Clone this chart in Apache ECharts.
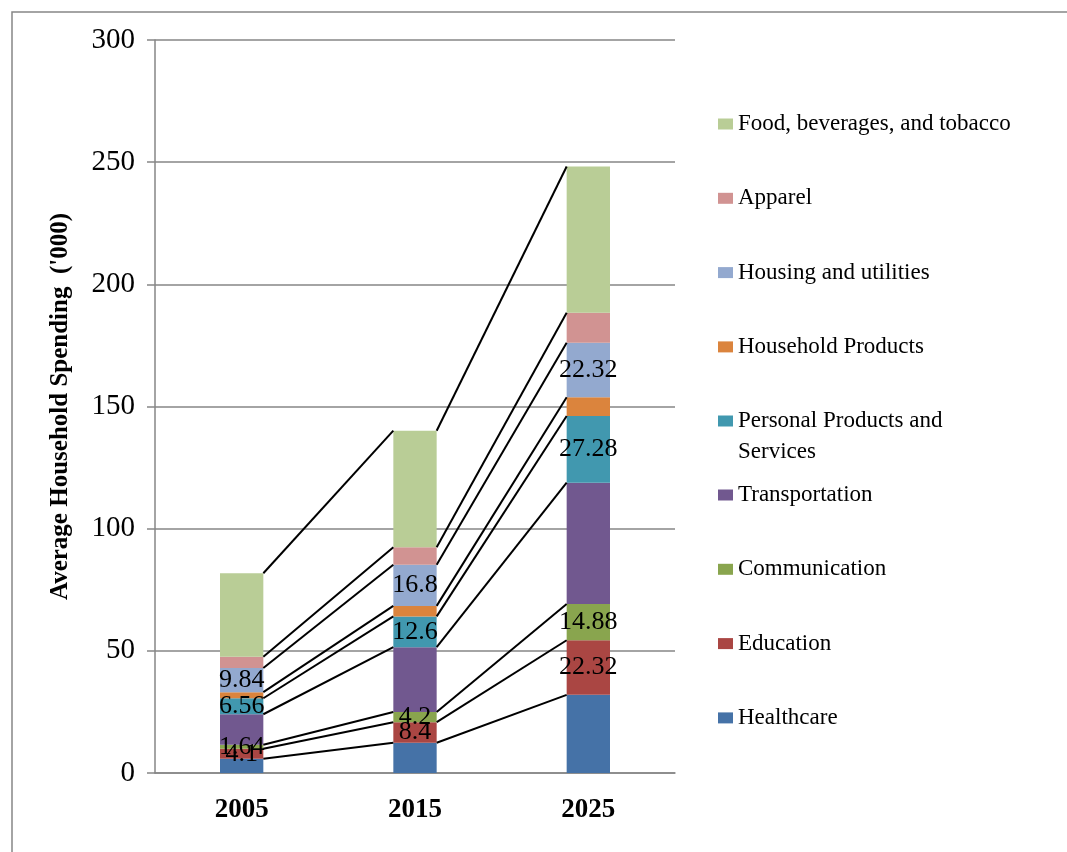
<!DOCTYPE html>
<html>
<head>
<meta charset="utf-8">
<title>Average Household Spending</title>
<script src="https://cdn.jsdelivr.net/npm/echarts@6/dist/echarts.min.js"></script>
<style>
  html, body { margin: 0; padding: 0; background: #ffffff; }
  #chart { width: 1067px; height: 852px; }
</style>
</head>
<body>
<div id="chart"></div>
<script>
// Years on the category axis
const categories = ['2005', '2015', '2025'];

// Spending per category ('000), stacked bottom to top
const healthcare     = [5.8, 12.4, 32];
const education      = [4.1, 8.4, 22.32];
const communication  = [1.64, 4.2, 14.88];
const transportation = [12.5, 26.5, 49.6];
const personal       = [6.56, 12.6, 27.28];
const household      = [2.5, 4.3, 7.7];
const housing        = [9.84, 16.8, 22.32];
const apparel        = [4.6, 7.2, 12.3];
const food           = [34.2, 47.7, 59.8];

// Value axis range
const yMin = 0;
const yMax = 300;
const yStep = 50;

const seriesDefs = [
  { name: 'Healthcare', data: healthcare, color: '#4572A7', label: false },
  { name: 'Education', data: education, color: '#AA4643', label: true },
  { name: 'Communication', data: communication, color: '#89A54E', label: true },
  { name: 'Transportation', data: transportation, color: '#71588F', label: false },
  { name: 'Personal Products and Services', data: personal, color: '#4198AF', label: true },
  { name: 'Household Products', data: household, color: '#DB843D', label: false },
  { name: 'Housing and utilities', data: housing, color: '#93A9CF', label: true },
  { name: 'Apparel', data: apparel, color: '#D19392', label: false },
  { name: 'Food, beverages, and tobacco', data: food, color: '#B9CD96', label: false }
];

const SERIF = "'Liberation Serif', 'Times New Roman', serif";
const BAR_RATIO = 0.25;
const GRAY = '#868686';

// Cumulative tops of each stacked segment, used for the series lines
const cumulative = [];
seriesDefs.forEach((s, i) => {
  cumulative.push(s.data.map((v, j) => (i ? cumulative[i - 1][j] : 0) + v));
});
const connectorData = [];
cumulative.forEach(row => {
  for (let j = 0; j < categories.length - 1; j++) {
    connectorData.push([j, row[j], row[j + 1]]);
  }
});

const barSeries = seriesDefs.map(s => ({
  name: s.name,
  type: 'bar',
  stack: 'total',
  barWidth: (BAR_RATIO * 100) + '%',
  data: s.data,
  itemStyle: { color: s.color },
  label: {
    show: s.label,
    position: 'inside',
    color: '#000',
    fontFamily: SERIF,
    fontSize: 26,
    formatter: p => String(p.value)
  },
  emphasis: { disabled: true }
}));

// Lines joining the top of each segment from one bar to the next
const connectorSeries = {
  type: 'custom',
  silent: true,
  z: 3,
  data: connectorData,
  encode: { x: 0, y: [1, 2] },
  renderItem: (params, api) => {
    const j = api.value(0);
    const a = api.coord([j, api.value(1)]);
    const b = api.coord([j + 1, api.value(2)]);
    const half = api.size([1, 0])[0] * BAR_RATIO / 2;
    return {
      type: 'line',
      shape: { x1: a[0] + half, y1: a[1], x2: b[0] - half, y2: b[1] },
      style: { stroke: '#000', lineWidth: 2 }
    };
  }
};

const legendText = { fontFamily: SERIF, fontSize: 23, color: '#000', lineHeight: 31 };
const legendBase = {
  orient: 'vertical',
  left: 718,
  padding: 0,
  itemWidth: 15,
  itemHeight: 11,
  itemGap: 43.3,
  icon: 'rect',
  selectedMode: false,
  textStyle: legendText
};

const chart = echarts.init(document.getElementById('chart'), null, { renderer: 'canvas' });
chart.setOption({
  backgroundColor: '#ffffff',
  animation: false,
  grid: { left: 155, right: 392, top: 40, bottom: 79, containLabel: false },
  legend: [
    Object.assign({}, legendBase, {
      top: 108.5,
      data: ['Food, beverages, and tobacco', 'Apparel', 'Housing and utilities', 'Household Products']
    }),
    Object.assign({}, legendBase, {
      top: 374.5,
      data: ['Personal Products and Services'],
      formatter: () => '\nPersonal Products and\nServices'
    }),
    Object.assign({}, legendBase, {
      top: 479.5,
      data: ['Transportation', 'Communication', 'Education', 'Healthcare']
    })
  ],
  xAxis: {
    type: 'category',
    data: categories,
    axisLine: { lineStyle: { color: GRAY, width: 1.5 } },
    axisTick: { show: false },
    axisLabel: {
      margin: 24,
      color: '#000',
      fontFamily: SERIF,
      fontSize: 27,
      fontWeight: 'bold'
    }
  },
  yAxis: {
    type: 'value',
    min: yMin,
    max: yMax,
    interval: yStep,
    name: "Average Household Spending  ('000)",
    nameLocation: 'middle',
    nameRotate: 90,
    nameGap: 82,
    nameTextStyle: { fontFamily: SERIF, fontSize: 25, fontWeight: 'bold', color: '#000' },
    axisLine: { show: true, lineStyle: { color: GRAY, width: 1.5 } },
    axisTick: { show: true, length: 8, lineStyle: { color: GRAY, width: 1.5 } },
    axisLabel: { margin: 20, color: '#000', fontFamily: SERIF, fontSize: 29 },
    splitLine: { show: true, lineStyle: { color: GRAY, width: 1.5 } }
  },
  graphic: [{
    type: 'rect',
    silent: true,
    z: -1,
    shape: { x: 12, y: 12, width: 1100, height: 900 },
    style: { fill: 'none', stroke: GRAY, lineWidth: 1.5 }
  }],
  series: barSeries.concat([connectorSeries])
});
</script>
</body>
</html>
